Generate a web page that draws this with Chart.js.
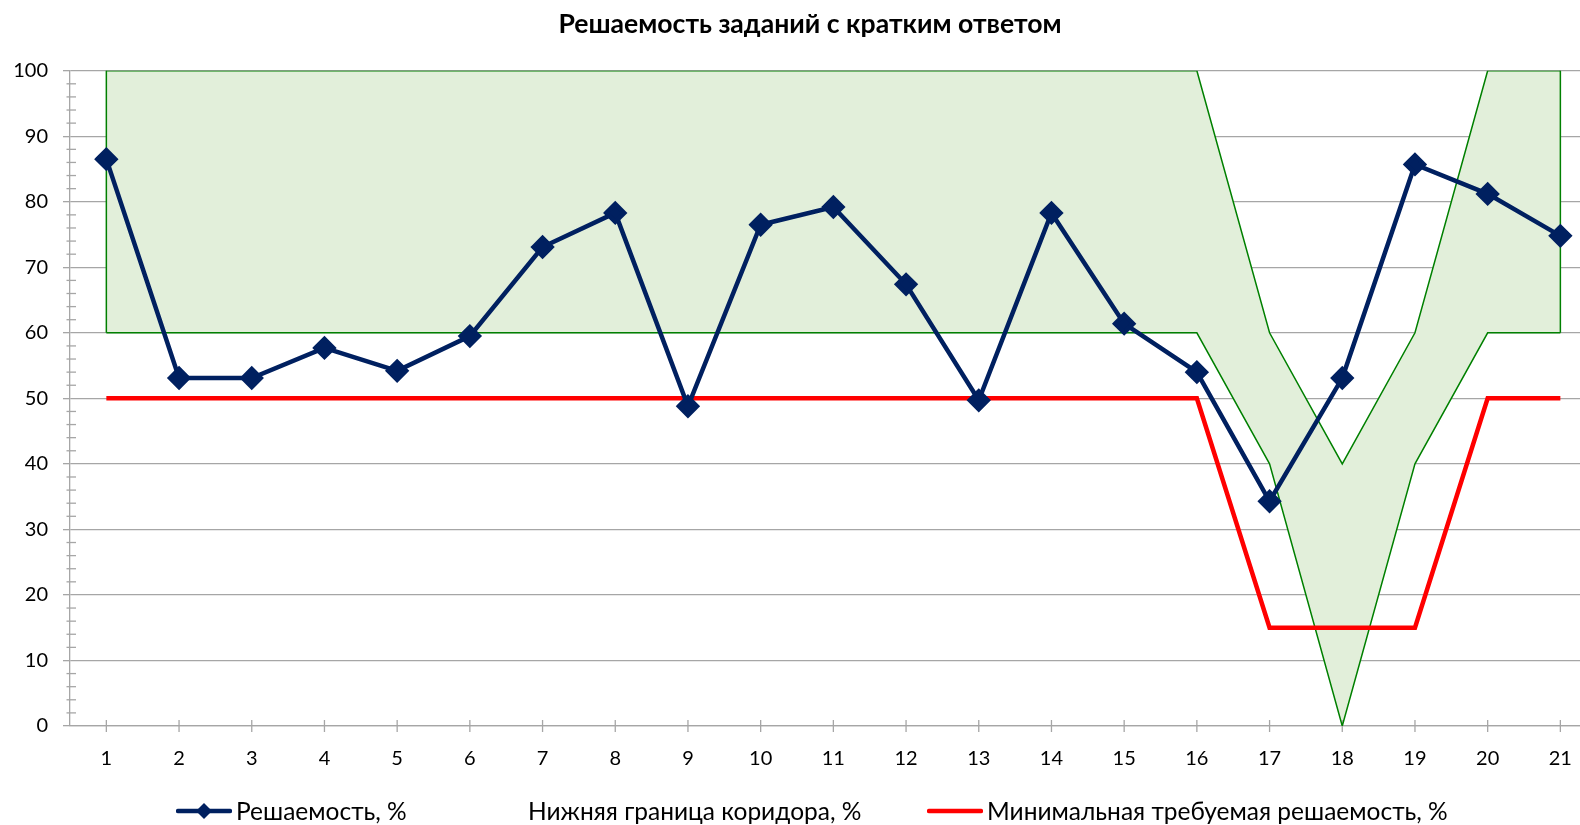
<!DOCTYPE html>
<html lang="ru">
<head>
<meta charset="utf-8">
<script src="https://cdn.jsdelivr.net/npm/chart.js@4.4.1/dist/chart.umd.min.js"></script>
<style>
  html, body { margin: 0; padding: 0; background: #fff; overflow: hidden; }
  #wrap { position: relative; width: 1580px; height: 825px; overflow: hidden; }
  #grafico { position: absolute; left: 0; top: 0; }
  #titulo { position: absolute; left: 0; top: 7px; width: 1620px; text-align: center; font-family: Lato, "Noto Sans", sans-serif;
            font-weight: bold; font-size: 26.6px; line-height: 32px; color: #000; white-space: nowrap; }
  .leg { position: absolute; font-family: Lato, "Noto Sans", sans-serif; font-size: 24.5px; color: #000;
         white-space: nowrap; line-height: 30px; top: 796px; }
  .leg svg { position: absolute; top: 0; }
</style>
</head>
<body>
<div id="wrap">
  <canvas id="grafico" width="1580" height="825"></canvas>
  <div id="titulo">Решаемость заданий с кратким ответом</div>
  <div class="leg" style="left:176px">
    <svg width="56" height="30" style="left:0"><line x1="2" y1="15" x2="54" y2="15" stroke="#002060" stroke-width="4.5" stroke-linecap="round"/><polygon points="28,7 36,15 28,23 20,15" fill="#002060"/></svg>
    <span style="position:absolute;left:60px">Решаемость, %</span>
  </div>
  <div class="leg" style="left:528px"><span>Нижняя граница коридора, %</span></div>
  <div class="leg" style="left:927px">
    <svg width="56" height="30" style="left:0"><line x1="2" y1="15" x2="54" y2="15" stroke="#ff0000" stroke-width="4.5" stroke-linecap="round"/></svg>
    <span style="position:absolute;left:60px">Минимальная требуемая решаемость, %</span>
  </div>
</div>
<script>
// Решаемость заданий с кратким ответом

const zadaniya = [1, 2, 3, 4, 5, 6, 7, 8, 9, 10, 11, 12, 13, 14, 15, 16, 17, 18, 19, 20, 21];
const reshaemost = [86.5, 53.1, 53.1, 57.7, 54.2, 59.5, 73.1, 78.3, 48.8, 76.5, 79.2, 67.4, 49.7, 78.3, 61.4, 54.0, 34.3, 53.1, 85.7, 81.2, 74.8];
const nizhnyaya = [60, 60, 60, 60, 60, 60, 60, 60, 60, 60, 60, 60, 60, 60, 60, 60, 40, 0, 40, 60, 60];
const verhnyaya = [100, 100, 100, 100, 100, 100, 100, 100, 100, 100, 100, 100, 100, 100, 100, 100, 60, 40, 60, 100, 100];
const minimum = [50, 50, 50, 50, 50, 50, 50, 50, 50, 50, 50, 50, 50, 50, 50, 50, 15, 15, 15, 50, 50];
const yMetki = [0, 10, 20, 30, 40, 50, 60, 70, 80, 90, 100];
const yShag = 2;

const cinza = "#a6a6a6";
const verde = "#008000";
const fonte = "Lato, 'Noto Sans', sans-serif";

const pontos = arr => arr.map((v, i) => ({ x: zadaniya[i], y: v }));

// bordas verticais do corredor + marcas cruzadas dos eixos
const extras = {
  id: "extras",
  beforeDatasetsDraw(chart) {
    const { ctx, scales: { x, y } } = chart;
    ctx.save();
    ctx.strokeStyle = verde;
    ctx.lineWidth = 1.5;
    [0, zadaniya.length - 1].forEach(i => {
      const px = x.getPixelForValue(zadaniya[i]);
      ctx.beginPath();
      ctx.moveTo(px, y.getPixelForValue(nizhnyaya[i]));
      ctx.lineTo(px, y.getPixelForValue(verhnyaya[i]));
      ctx.stroke();
    });
    ctx.strokeStyle = cinza;
    ctx.lineWidth = 1.3;
    const base = y.getPixelForValue(0);
    zadaniya.forEach(z => {
      const px = x.getPixelForValue(z);
      ctx.beginPath();
      ctx.moveTo(px, base - 6);
      ctx.lineTo(px, base + 6);
      ctx.stroke();
    });
    const ax = x.left;
    for (let v = 0; v <= 100; v += yShag) {
      if (yMetki.includes(v)) continue;
      const py = y.getPixelForValue(v);
      ctx.beginPath();
      ctx.moveTo(ax - 3.5, py);
      ctx.lineTo(ax + 6, py);
      ctx.stroke();
    }
    ctx.restore();
  }
};

const ctx = document.getElementById("grafico").getContext("2d");

new Chart(ctx, {
  type: "line",
  data: {
    datasets: [
      {
        label: "Решаемость, %",
        data: pontos(reshaemost),
        borderColor: "#002060",
        backgroundColor: "#002060",
        borderWidth: 4.5,
        pointStyle: "rectRot",
        pointRadius: 9,
        pointHoverRadius: 9,
        fill: false,
        order: 0
      },
      {
        label: "Нижняя граница коридора, %",
        data: pontos(nizhnyaya),
        borderColor: verde,
        borderWidth: 1.5,
        pointRadius: 0,
        fill: false,
        order: 2
      },
      {
        label: "Коридор",
        data: pontos(verhnyaya),
        borderColor: verde,
        backgroundColor: "#e2efda",
        borderWidth: 1.5,
        pointRadius: 0,
        fill: "-1",
        order: 3
      },
      {
        label: "Минимальная требуемая решаемость, %",
        data: pontos(minimum),
        borderColor: "#ff0000",
        borderWidth: 4.5,
        pointRadius: 0,
        fill: false,
        order: 1
      }
    ]
  },
  options: {
    responsive: false,
    animation: false,
    layout: { autoPadding: false, padding: { left: 0, right: 0, top: 70.7, bottom: 0 } },
    plugins: {
      legend: { display: false },
      tooltip: { enabled: false },
      filler: { drawTime: "beforeDatasetsDraw" },
      title: { display: false }
    },
    scales: {
      x: {
        type: "linear",
        min: 0.5,
        max: 21.27,
        afterFit: s => { s.height = 99; s.paddingLeft = 0; s.paddingRight = 0; },
        afterBuildTicks: s => { s.ticks = zadaniya.map(z => ({ value: z })); },
        grid: { display: false, drawTicks: false },
        border: { color: cinza, width: 1.3 },
        ticks: {
          color: "#000",
          padding: 21,
          autoSkip: false,
          maxRotation: 0,
          font: { family: fonte, size: 20 }
        }
      },
      y: {
        min: 0,
        max: 100,
        afterFit: s => { s.width = 70; },
        afterBuildTicks: s => {
          const t = [];
          for (let v = 0; v <= 100; v += yShag) t.push({ value: v });
          s.ticks = t;
        },
        grid: {
          color: c => yMetki.includes(c.tick.value) ? cinza : "transparent",
          tickColor: c => yMetki.includes(c.tick.value) ? cinza : "transparent",
          lineWidth: 1.3,
          tickLength: 7
        },
        border: { color: cinza, width: 1.3 },
        ticks: {
          color: "#000",
          padding: 15,
          autoSkip: false,
          font: { family: fonte, size: 20 },
          callback: v => yMetki.includes(v) ? v : ""
        }
      }
    }
  },
  plugins: [extras]
});
</script>
</body>
</html>
